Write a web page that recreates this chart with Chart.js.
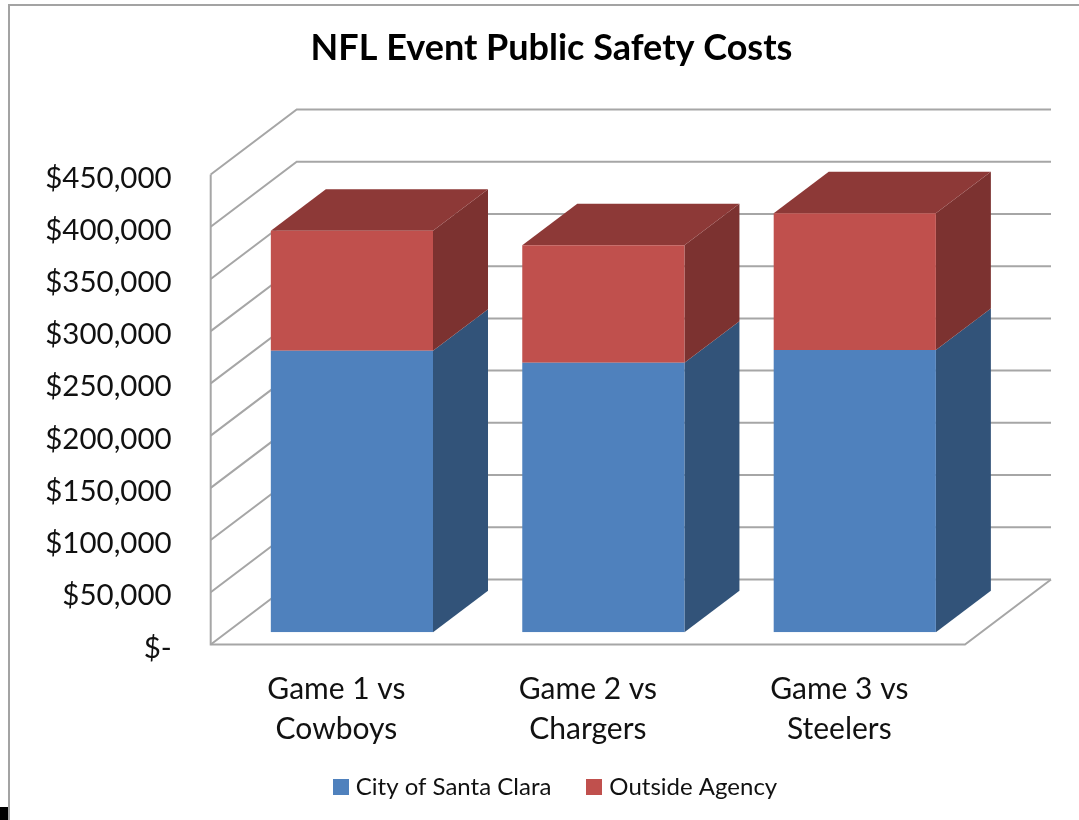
<!DOCTYPE html>
<html>
<head>
<meta charset="utf-8">
<title>NFL Event Public Safety Costs</title>
<script src="https://cdn.jsdelivr.net/npm/chart.js@4/dist/chart.umd.min.js"></script>
<style>
  html, body { margin: 0; padding: 0; background: #fff; }
  canvas { display: block; }
</style>
</head>
<body>
<canvas id="costs" width="1079" height="820"></canvas>
<script>
const categories = [['Game 1 vs', 'Cowboys'], ['Game 2 vs', 'Chargers'], ['Game 3 vs', 'Steelers']];
const cityOfSantaClara = [269600, 258100, 270300];
const outsideAgency = [114900, 112400, 130900];
const yTickLabels = ['$-', '$50,000', '$100,000', '$150,000', '$200,000', '$250,000', '$300,000', '$350,000', '$400,000', '$450,000'];

const font = 'Lato, Carlito, sans-serif';
const textColor = '#111';
const wallColor = '#a6a6a6';
const faceColors = ['#4f81bd', '#c0504d'];

// depth of the fake 3d box and of the bars sitting inside it
const wallDepth = { x: 86, y: -65 };
const barDepth = { x: 55, y: -41.5 };
const barOffset = { x: 15.5, y: -12.2 };

const shades = [
    { side: '#325379' },
    { side: '#7c3230', top: '#8d3937' }
];

function poly(ctx, pts, color) {
    ctx.fillStyle = color;
    ctx.beginPath();
    pts.forEach((p, i) => i ? ctx.lineTo(p[0], p[1]) : ctx.moveTo(p[0], p[1]));
    ctx.closePath();
    ctx.fill();
}

// legend square as an image, so it can sit closer to the text than chart.js allows
function swatch(color) {
    const c = document.createElement('canvas');
    c.width = 16;
    c.height = 16;
    const g = c.getContext('2d');
    g.fillStyle = color;
    g.fillRect(0, 0, 16, 16);
    return c;
}

const frame3d = {
    id: 'frame3d',
    afterLayout(chart) {
        chart.titleBlock.left += 69;
        chart.titleBlock.right += 69;
        const legend = chart.legend;
        legend.left += 75;
        legend.right += 75;
        legend.top = 775 - legend.options.labels.padding;
    },
    beforeDraw(chart) {
        const ctx = chart.ctx;
        // edge of the slide and the black corner from the screenshot
        ctx.fillStyle = '#a3a3a3';
        ctx.fillRect(8, 4, 1071, 2);
        ctx.fillRect(8, 4, 2, 816);
        ctx.fillStyle = '#000';
        ctx.fillRect(0, 807, 8, 13);
    },
    beforeDatasetsDraw(chart) {
        const ctx = chart.ctx;
        const { left, right } = chart.chartArea;
        const y = chart.scales.y;

        ctx.save();
        ctx.strokeStyle = wallColor;
        ctx.lineWidth = 2;
        y.ticks.forEach(t => {
            const py = y.getPixelForValue(t.value);
            ctx.beginPath();
            ctx.moveTo(left, py);
            ctx.lineTo(left + wallDepth.x, py + wallDepth.y);
            ctx.lineTo(right + wallDepth.x, py + wallDepth.y);
            ctx.stroke();
        });
        // left wall edge and floor
        const y0 = y.getPixelForValue(0);
        ctx.beginPath();
        ctx.moveTo(left, y.getPixelForValue(450000));
        ctx.lineTo(left, y0);
        ctx.lineTo(right, y0);
        ctx.lineTo(right + wallDepth.x, y0 + wallDepth.y);
        ctx.stroke();

        // side and top faces, from the bar elements
        ctx.translate(barOffset.x, barOffset.y);
        chart.data.datasets.forEach((ds, d) => {
            chart.getDatasetMeta(d).data.forEach(bar => {
                const l = bar.x - bar.width / 2;
                const r = bar.x + bar.width / 2;
                poly(ctx, [
                    [r, bar.y], [r + barDepth.x, bar.y + barDepth.y],
                    [r + barDepth.x, bar.base + barDepth.y], [r, bar.base]
                ], shades[d].side);
                if (shades[d].top) {
                    poly(ctx, [
                        [l, bar.y], [l + barDepth.x, bar.y + barDepth.y],
                        [r + barDepth.x, bar.y + barDepth.y], [r, bar.y]
                    ], shades[d].top);
                }
            });
        });
        ctx.restore();
    },
    beforeDatasetDraw(chart) {
        chart.ctx.save();
        chart.ctx.translate(barOffset.x, barOffset.y);
    },
    afterDatasetDraw(chart) {
        chart.ctx.restore();
    }
};

const myChart = new Chart(document.getElementById('costs'), {
    type: 'bar',
    data: {
        labels: categories,
        datasets: [
            { label: 'City of Santa Clara', data: cityOfSantaClara, backgroundColor: faceColors[0] },
            { label: 'Outside Agency', data: outsideAgency, backgroundColor: faceColors[1] }
        ]
    },
    plugins: [frame3d],
    options: {
        responsive: false,
        animation: false,
        events: [],
        layout: { padding: { right: 114 } },
        barPercentage: 1,
        categoryPercentage: 0.645,
        plugins: {
            tooltip: { enabled: false },
            title: {
                display: true,
                text: 'NFL Event Public Safety Costs',
                color: '#000',
                font: { family: font, size: 36, weight: 'bold', lineHeight: 1.25 },
                padding: { top: 25.5, bottom: 104 }
            },
            legend: {
                position: 'bottom',
                labels: {
                    color: textColor,
                    font: { family: font, size: 24 },
                    usePointStyle: true,
                    pointStyleWidth: 6,
                    padding: 40,
                    generateLabels: chart => chart.data.datasets.map((ds, i) => ({
                        text: ds.label,
                        fontColor: textColor,
                        pointStyle: swatch(faceColors[i]),
                        datasetIndex: i
                    }))
                }
            }
        },
        scales: {
            x: {
                stacked: true,
                grid: { display: false, drawTicks: false },
                border: { display: false },
                ticks: {
                    color: textColor,
                    font: { family: font, size: 30, lineHeight: 1.33 },
                    padding: 24.5,
                    maxRotation: 0,
                    autoSkip: false
                },
                // whatever the legend leaves below the floor line
                afterFit(scale) { scale.height = 175.5 - scale.chart.legend.height; }
            },
            y: {
                stacked: true,
                min: 0,
                max: 450000,
                grid: { display: false, drawTicks: false },
                border: { display: false },
                ticks: {
                    stepSize: 50000,
                    color: textColor,
                    font: { family: font, size: 29.5 },
                    padding: 39,
                    labelOffset: 3.5,
                    callback: (value, i) => yTickLabels[i]
                },
                afterFit(scale) { scale.width = 210.7; }
            }
        }
    }
});
</script>
</body>
</html>
